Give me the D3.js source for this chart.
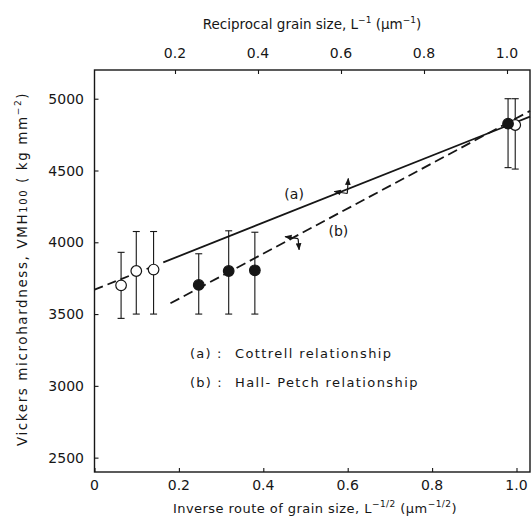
<!DOCTYPE html>
<html><head><meta charset="utf-8">
<script src="https://cdn.jsdelivr.net/npm/d3@7"></script>
<style>
html,body{margin:0;padding:0;background:#fff;}
text{font-family:"DejaVu Sans",sans-serif;fill:#161616;}
</style></head>
<body><svg id="c" width="532" height="525"></svg>
<script>
// ---- data ----
const xTicks = [0, 0.2, 0.4, 0.6, 0.8, 1.0];
const xTickLabels = ["0", "0.2", "0.4", "0.6", "0.8", "1.0"];
const topTicks = [0.2, 0.4, 0.6, 0.8, 1.0];
const topTickLabels = ["0.2", "0.4", "0.6", "0.8", "1.0"];
const yTicks = [2500, 3000, 3500, 4000, 4500, 5000];

// open circles (x = L^-1/2)
const openX  = [0.063, 0.099, 0.140, 0.997];
const openY  = [3700, 3800, 3810, 4817];
const openLo = [3470, 3500, 3500, 4510];
const openHi = [3930, 4075, 4075, 5000];
// filled circles
const fillX  = [0.247, 0.318, 0.380, 0.980];
const fillY  = [3703, 3800, 3805, 4826];
const fillLo = [3500, 3500, 3500, 4520];
const fillHi = [3920, 4080, 4070, 5000];

// line (a) Cottrell: dashed lead-in then solid
const lineAdashX = [0, 0.150];
const lineAdashY = [3670, 3845];
const lineAsolX  = [0.163, 1.032];
const lineAsolY  = [3860, 4875];
// line (b) Hall-Petch: dashed
const lineBX = [0.180, 1.032];
const lineBY = [3575, 4915];

// annotation anchors (x on bottom axis, y value)
const arrowA = {x: 0.599, y: 4340};
const arrowB = {x: 0.4825, y: 4025};
const labelA = {x: 0.473, y: 4300, t: "(a)"};
const labelB = {x: 0.578, y: 4045, t: "(b)"};

// ---- chart ----
const svg = d3.select("#c");
const L = 94.5, R = 530, T = 70, B = 472;
const x = d3.scaleLinear().domain([0, 1.032]).range([L, R]);
const xTop = d3.scaleLinear().domain([0, 1.0]).range([92, 507]);
const y = d3.scaleLinear().domain([2400, 5200]).range([B, T]);
const ink = "#161616";

// frame
svg.append("rect").attr("x", L).attr("y", T).attr("width", R - L).attr("height", B - T)
  .attr("fill", "none").attr("stroke", ink).attr("stroke-width", 1.4);

// axes (inward ticks)
const gB = svg.append("g").attr("transform", `translate(0,${B})`)
  .call(d3.axisTop(x).tickValues(xTicks).tickSize(4).tickFormat(() => ""));
const gT = svg.append("g").attr("transform", `translate(0,${T})`)
  .call(d3.axisBottom(xTop).tickValues(topTicks).tickSize(4).tickFormat(() => ""));
const gL = svg.append("g").attr("transform", `translate(${L},0)`)
  .call(d3.axisRight(y).tickValues(yTicks).tickSize(4).tickFormat(() => ""));
[gB, gT, gL].forEach(g => { g.select(".domain").remove(); g.selectAll("line").attr("stroke", ink).attr("stroke-width", 1.1); });

// tick labels
svg.append("g").selectAll("text").data(xTicks).join("text")
  .attr("x", d => x(d)).attr("y", 490).attr("text-anchor", "middle")
  .attr("font-size", 14).text((d, i) => xTickLabels[i]);
svg.append("g").selectAll("text").data(topTicks).join("text")
  .attr("x", d => xTop(d)).attr("y", 58).attr("text-anchor", "middle")
  .attr("font-size", 14).text((d, i) => topTickLabels[i]);
svg.append("g").selectAll("text").data(yTicks).join("text")
  .attr("x", 84).attr("y", d => y(d) + 5).attr("text-anchor", "end")
  .attr("font-size", 14).text(d => d);

// axis titles
const tt = svg.append("text").attr("x", 312).attr("y", 29).attr("text-anchor", "middle").attr("font-size", 13.5);
tt.append("tspan").text("Reciprocal grain size, L");
tt.append("tspan").attr("font-size", 9).attr("dy", -6).text("−1");
tt.append("tspan").attr("dy", 6).text(" (μm");
tt.append("tspan").attr("font-size", 9).attr("dy", -6).text("−1");
tt.append("tspan").attr("dy", 6).text(")");

const bt = svg.append("text").attr("x", 315).attr("y", 513).attr("text-anchor", "middle")
  .attr("font-size", 13).attr("letter-spacing", 0.45);
bt.append("tspan").text("Inverse route of grain size, L");
bt.append("tspan").attr("font-size", 9).attr("dy", -6).text("−1/2");
bt.append("tspan").attr("dy", 6).text(" (μm");
bt.append("tspan").attr("font-size", 9).attr("dy", -6).text("−1/2");
bt.append("tspan").attr("dy", 6).text(")");

const yt = svg.append("text").attr("transform", "translate(27,269) rotate(-90)")
  .attr("text-anchor", "middle").attr("font-size", 13.5).attr("letter-spacing", 1.6);
yt.append("tspan").text("Vickers microhardness, VMH");
yt.append("tspan").attr("font-size", 10).text("100");
yt.append("tspan").text(" ( kg mm");
yt.append("tspan").attr("font-size", 9).attr("dy", -6).text("−2");
yt.append("tspan").attr("dy", 6).text(")");

// error bars
function errBars(xs, lo, hi) {
  const g = svg.append("g").attr("stroke", ink).attr("stroke-width", 1.1);
  xs.forEach((v, i) => {
    g.append("line").attr("x1", x(v)).attr("x2", x(v)).attr("y1", y(lo[i])).attr("y2", y(hi[i]));
    [lo[i], hi[i]].forEach(e => g.append("line").attr("x1", x(v) - 3.5).attr("x2", x(v) + 3.5).attr("y1", y(e)).attr("y2", y(e)));
  });
}
errBars(openX, openLo, openHi);
errBars(fillX, fillLo, fillHi);

// lines
const line = d3.line().x(d => x(d[0])).y(d => y(d[1]));
svg.append("path").attr("d", line(d3.zip(lineAdashX, lineAdashY))).attr("fill", "none")
  .attr("stroke", ink).attr("stroke-width", 1.8).attr("stroke-dasharray", "9,5");
svg.append("path").attr("d", line(d3.zip(lineAsolX, lineAsolY))).attr("fill", "none")
  .attr("stroke", ink).attr("stroke-width", 1.8);
svg.append("path").attr("d", line(d3.zip(lineBX, lineBY))).attr("fill", "none")
  .attr("stroke", ink).attr("stroke-width", 1.8).attr("stroke-dasharray", "10,5");

// circles
svg.append("g").selectAll("circle").data(openX).join("circle")
  .attr("cx", d => x(d)).attr("cy", (d, i) => y(openY[i])).attr("r", 5.3)
  .attr("fill", "#fff").attr("stroke", ink).attr("stroke-width", 1.2);
svg.append("g").selectAll("circle").data(fillX).join("circle")
  .attr("cx", d => x(d)).attr("cy", (d, i) => y(fillY[i])).attr("r", 5.3)
  .attr("fill", ink).attr("stroke", ink).attr("stroke-width", 1.2);

// arrow markers
const defs = svg.append("defs");
defs.append("marker").attr("id", "ah").attr("viewBox", "0 0 10 10").attr("refX", 9).attr("refY", 5)
  .attr("markerWidth", 6).attr("markerHeight", 6).attr("orient", "auto")
  .append("path").attr("d", "M0,1 L10,5 L0,9 Z").attr("fill", ink);
function arrows(a, vert) {
  const px = x(a.x), py = y(a.y);
  svg.append("line").attr("x1", px).attr("y1", py).attr("x2", px - 13).attr("y2", py - 2)
    .attr("stroke", ink).attr("stroke-width", 1.2).attr("marker-end", "url(#ah)");
  svg.append("line").attr("x1", px).attr("y1", py).attr("x2", px + 1).attr("y2", py + vert)
    .attr("stroke", ink).attr("stroke-width", 1.2).attr("marker-end", "url(#ah)");
}
arrows(arrowA, -15);
arrows(arrowB, 11);

// line labels
[labelA, labelB].forEach(l => svg.append("text").attr("x", x(l.x)).attr("y", y(l.y))
  .attr("text-anchor", "middle").attr("font-size", 14).text(l.t));

// legend
const legend = [["(a)", "Cottrell relationship"], ["(b)", "Hall- Petch relationship"]];
legend.forEach((d, i) => {
  const yy = 358 + i * 29;
  svg.append("text").attr("x", 190).attr("y", yy).attr("font-size", 13).attr("letter-spacing", 1.2).text(d[0] + " :");
  svg.append("text").attr("x", 235).attr("y", yy).attr("font-size", 13).attr("letter-spacing", 1.4).text(d[1]);
});
</script></body></html>
